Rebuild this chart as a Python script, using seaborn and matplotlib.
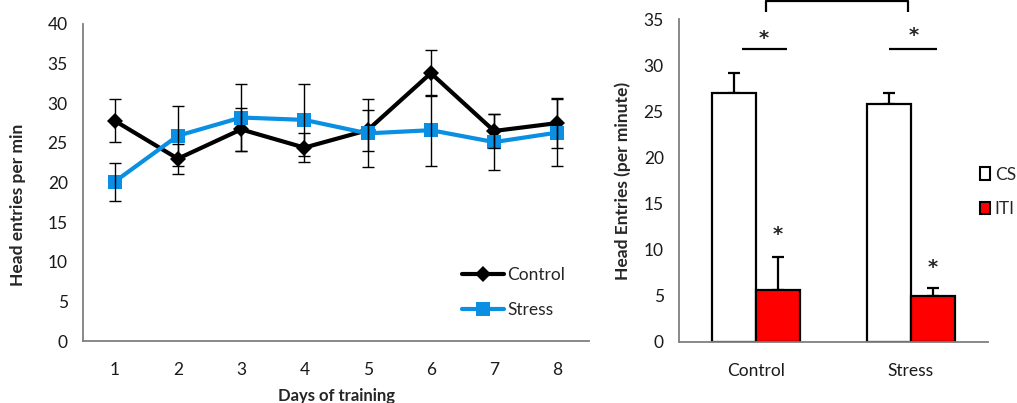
import numpy as np
import pandas as pd
import matplotlib
matplotlib.use('Agg')
import matplotlib.pyplot as plt
from matplotlib.patches import Patch
import seaborn as sns

# 左图: 训练天数
days = [1, 2, 3, 4, 5, 6, 7, 8]
control_mean = [27.8, 23.0, 26.7, 24.4, 26.6, 33.8, 26.5, 27.5]
control_sem = [2.7, 1.9, 2.7, 1.8, 2.6, 2.9, 2.2, 3.2]
stress_mean = [20.1, 25.9, 28.2, 27.9, 26.2, 26.6, 25.1, 26.3]
stress_sem = [2.4, 3.8, 4.2, 4.5, 4.3, 4.5, 3.5, 4.2]

# 右图: CS vs ITI
groups = ['Control', 'Stress']
cs_mean = [27.0, 25.8]
cs_sem = [2.2, 1.2]
iti_mean = [5.6, 5.0]
iti_sem = [3.6, 0.8]

sns.set_style('white')
plt.rcParams['font.family'] = ['Lato', 'DejaVu Sans']
plt.rcParams['font.size'] = 12.5

blue = '#0a8fe3'
red = '#ff0000'
spine_col = '#7f7f7f'
text_col = '#1a1a1a'

fig = plt.figure(figsize=(10.17, 4.03), dpi=100)
W, H = 1017, 403
ax1 = fig.add_axes([83 / W, 1 - 341 / H, (589 - 83) / W, (341 - 24) / H])
ax2 = fig.add_axes([679 / W, 1 - 342 / H, (988 - 679) / W, (342 - 19) / H])

# ---------- 左图 ----------
df_line = pd.DataFrame({
    'day': days * 2,
    'value': control_mean + stress_mean,
    'group': ['Control'] * len(days) + ['Stress'] * len(days),
})
sns.lineplot(data=df_line, x='day', y='value', hue='group', style='group',
             markers={'Control': 'D', 'Stress': 's'}, dashes=False,
             palette={'Control': 'black', 'Stress': blue},
             linewidth=3, markersize=10, markeredgewidth=0, ax=ax1)
# 菱形稍小一点
ax1.lines[0].set_markersize(8)
ax1.errorbar(days, control_mean, yerr=control_sem, fmt='none', ecolor='black',
             elinewidth=1, capsize=4, capthick=1, zorder=5)
ax1.errorbar(days, stress_mean, yerr=stress_sem, fmt='none', ecolor='black',
             elinewidth=1, capsize=4, capthick=1, zorder=5)

ax1.set_xlim(0.5, 8.5)
ax1.set_ylim(0, 40)
ax1.set_yticks(np.arange(0, 41, 5))
ax1.set_xticks(np.arange(0.5, 9, 1))
ax1.set_xticklabels([])
ax1.set_xticks(days, minor=True)
ax1.set_xticklabels([str(d) for d in days], minor=True)
ax1.tick_params(axis='x', which='minor', length=0, pad=15, colors=text_col)
ax1.set_xlabel('')
ax1.set_ylabel('Head entries per min', fontweight='bold', va='center')
ax1.yaxis.set_label_coords(-0.128, 0.43)
fig.text(336 / W, 1 - 388 / H, 'Days of training', fontweight='bold',
         ha='center', va='top', fontsize=12)

sns.move_legend(ax1, loc='center left', bbox_to_anchor=(0.749, 0.153),
                title=None, frameon=False, borderpad=0, borderaxespad=0,
                handlelength=2.4, handletextpad=0.2, labelspacing=1.1)
ax1.get_legend().legend_handles[0].set_markersize(8)

# ---------- 右图 ----------
df_bar = pd.DataFrame({
    'group': groups * 2,
    'phase': ['CS'] * 2 + ['ITI'] * 2,
    'value': cs_mean + iti_mean,
})
sns.barplot(data=df_bar, x='group', y='value', hue='phase',
            palette={'CS': 'white', 'ITI': red}, saturation=1,
            edgecolor='black', linewidth=1.6, width=0.57, gap=0,
            errorbar=None, legend=False, ax=ax2)

for cont, sems in zip(ax2.containers, [cs_sem, iti_sem]):
    xs = [b.get_x() + b.get_width() / 2 for b in cont]
    ys = [b.get_height() for b in cont]
    ax2.errorbar(xs, ys, yerr=[np.zeros(len(sems)), sems], fmt='none',
                 ecolor='black', elinewidth=1.6, capsize=4, capthick=1.6,
                 zorder=0.5)

ax2.set_xlim(-0.5, 1.5)
ax2.set_ylim(0, 35)
ax2.set_yticks(np.arange(0, 36, 5))
ax2.set_xticks([-0.5, 0.5, 1.5])
ax2.set_xticklabels([])
ax2.set_xticks([0, 1], minor=True)
ax2.set_xticklabels(groups, minor=True)
ax2.tick_params(axis='x', which='minor', length=0, pad=15, colors=text_col)
ax2.set_xlabel('')
ax2.set_ylabel('Head Entries (per minute)', fontweight='bold', va='center')
ax2.yaxis.set_label_coords(-(679 - 623) / (988 - 679), 0.5)

# 显著性标记
sig = dict(color='black', lw=1.6, clip_on=False, solid_capstyle='butt')
ax2.plot([0.06, 0.06, 0.98, 0.98], [35.75, 36.95, 36.95, 35.75], **sig)
ax2.plot([-0.09, 0.2], [31.7, 31.7], **sig)
ax2.plot([0.86, 1.17], [31.8, 31.8], **sig)
for x, y in [(0.05, 32.9), (1.02, 33.2), (0.14, 11.6), (1.14, 8.1)]:
    ax2.text(x, y, '*', ha='center', va='center', fontsize=14,
             fontweight='bold', family='DejaVu Sans', clip_on=False)

handles = [Patch(facecolor='white', edgecolor='black', linewidth=1.5, label='CS'),
           Patch(facecolor=red, edgecolor='black', linewidth=1.5, label='ITI')]
fig.legend(handles=handles, loc='center left', bbox_to_anchor=(980 / W, 1 - 192 / H),
           frameon=False, borderpad=0, borderaxespad=0, handlelength=0.6,
           handleheight=0.75, handletextpad=0.25, labelspacing=1.05)

for ax in (ax1, ax2):
    sns.despine(ax=ax)
    for s in ('left', 'bottom'):
        ax.spines[s].set_color(spine_col)
        ax.spines[s].set_linewidth(1.3)
    ax.tick_params(axis='both', which='major', direction='out', length=5,
                   width=1.3, color=spine_col, labelcolor=text_col)
    ax.tick_params(axis='y', pad=6)

fig.savefig('out.png', dpi=100)
